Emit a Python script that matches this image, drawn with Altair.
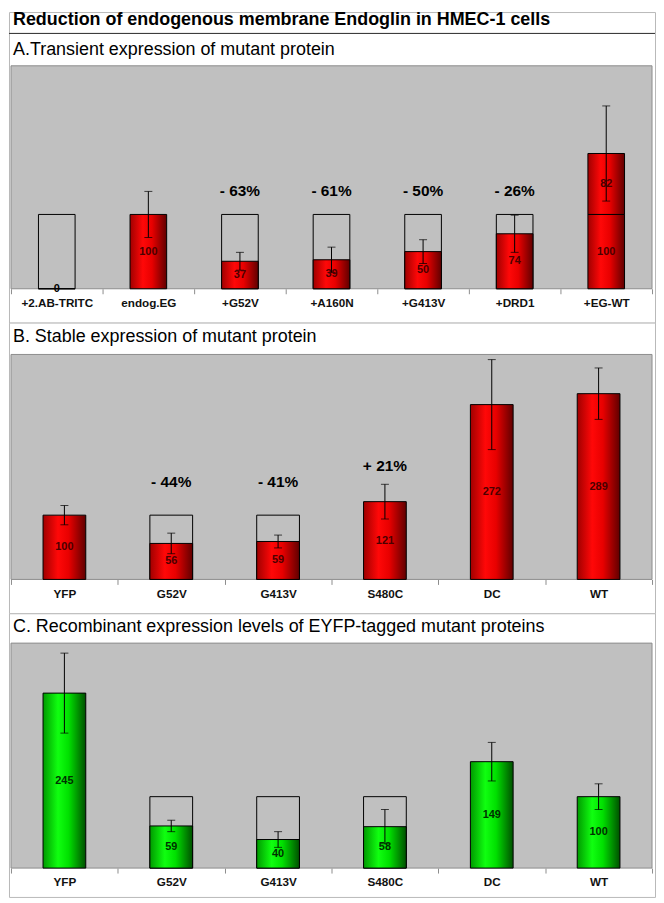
import altair as alt
import pandas as pd

FONT = "Liberation Sans"

# ---------------- data ----------------
main_title = "Reduction of endogenous membrane Endoglin in HMEC-1 cells"

title_a = "A.Transient expression of mutant protein"
cats_a = ["+2.AB-TRITC", "endog.EG", "+G52V", "+A160N", "+G413V", "+DRD1", "+EG-WT"]
base_a = [0, 100, 37, 39, 50, 74, 100]
extra_a = [0, 0, 0, 0, 0, 0, 82]
err_a = [0, 31, 12, 17, 16, 25, 64]
ref_a = [100, 0, 100, 100, 100, 100, 0]
pct_a = ["", "", "- 63%", "- 61%", "- 50%", "- 26%", ""]
pct_at_a = [0, 0, 131, 131, 131, 131, 0]

title_b = "B. Stable expression of mutant protein"
cats_b = ["YFP", "G52V", "G413V", "S480C", "DC", "WT"]
base_b = [100, 56, 59, 121, 272, 289]
extra_b = [0, 0, 0, 0, 0, 0]
err_b = [15, 16, 10, 27, 70, 40]
ref_b = [0, 100, 100, 0, 0, 0]
pct_b = ["", "- 44%", "- 41%", "+ 21%", "", ""]
pct_at_b = [0, 151, 151, 177, 0, 0]

title_c = "C. Recombinant expression levels of EYFP-tagged mutant proteins"
cats_c = ["YFP", "G52V", "G413V", "S480C", "DC", "WT"]
base_c = [245, 59, 40, 58, 149, 100]
extra_c = [0, 0, 0, 0, 0, 0]
err_c = [56, 8, 11, 24, 27, 18]
ref_c = [0, 100, 100, 100, 0, 0]
pct_c = ["", "", "", "", "", ""]
pct_at_c = [0, 0, 0, 0, 0, 0]

# ---------------- styling ----------------
W = 649
PX0, PX1 = 2, 646
TX = 4

red_grad = alt.LinearGradient(
    gradient="linear", x1=0, x2=1, y1=0, y2=0,
    stops=[alt.GradientStop(offset=0, color="#a00000"),
           alt.GradientStop(offset=0.35, color="#ff0808"),
           alt.GradientStop(offset=0.6, color="#e80000"),
           alt.GradientStop(offset=1, color="#600000")])
green_grad = alt.LinearGradient(
    gradient="linear", x1=0, x2=1, y1=0, y2=0,
    stops=[alt.GradientStop(offset=0, color="#009a00"),
           alt.GradientStop(offset=0.35, color="#10ff10"),
           alt.GradientStop(offset=0.6, color="#00e000"),
           alt.GradientStop(offset=1, color="#005000")])

one = pd.DataFrame({"k": [0]})


def panel(title, cats, base, extra, err, ref, pct, pct_at, ymax,
          H, title_y, top, bottom, grad, lab_color, top_rule=False):
    seg_rows = []
    for c, b, e in zip(cats, base, extra):
        seg_rows.append({"cat": c, "lo": 0, "hi": b, "mid": b / 2, "val": b})
        if e > 0:
            seg_rows.append({"cat": c, "lo": b, "hi": b + e, "mid": b + e / 2, "val": e})
    seg = pd.DataFrame(seg_rows)
    tot = [b + e for b, e in zip(base, extra)]
    eb = pd.DataFrame({"cat": cats, "lo": [t - r for t, r in zip(tot, err)],
                       "hi": [t + r for t, r in zip(tot, err)], "err": err})
    eb = eb[eb.err > 0]
    box = pd.DataFrame({"cat": cats, "lo": [0] * len(cats), "hi": ref})
    box = box[box.hi > 0]
    pc = pd.DataFrame({"cat": cats, "txt": pct, "y": pct_at})
    pc = pc[pc.txt != ""]

    x = alt.X("cat:N", sort=cats,
              scale=alt.Scale(domain=cats, range=[PX0, PX1], paddingInner=0, paddingOuter=0),
              axis=alt.Axis(title=None, labelAngle=0, labelFont=FONT, labelFontSize=11.75,
                            labelFontWeight="bold", labelColor="#111111",
                            tickColor="#8c8c8c", tickSize=5, tickBand="extent",
                            domain=False, grid=False, labelPadding=4,
                            offset=-(H - bottom)))
    ysc = alt.Scale(domain=[0, ymax], range=[bottom, top], nice=False, zero=True)

    def Y(f):
        return alt.Y(f, scale=ysc, axis=None)

    bg = alt.Chart(one).mark_rect(fill="#c0c0c0", stroke="#8c8c8c", strokeWidth=1).encode(
        x=alt.value(PX0), x2=alt.value(PX1), y=alt.value(top), y2=alt.value(bottom))
    ttl = alt.Chart(one).mark_text(align="left", baseline="middle", font=FONT,
                                   fontSize=18, color="black").encode(
        x=alt.value(TX), y=alt.value(title_y), text=alt.value(title))

    boxes = alt.Chart(box).mark_bar(fill="transparent", stroke="black", strokeWidth=1,
                                    width=alt.RelativeBandSize(0.4)).encode(
        x=x, y=Y("lo:Q"), y2="hi:Q")
    bars = alt.Chart(seg).mark_bar(fill=grad, stroke="black", strokeWidth=1,
                                   width=alt.RelativeBandSize(0.4)).encode(
        x=x, y=Y("lo:Q"), y2="hi:Q")
    rule = alt.Chart(eb).mark_rule(color="black", strokeWidth=1).encode(
        x=x, y=Y("lo:Q"), y2="hi:Q")
    cap_lo = alt.Chart(eb).mark_tick(color="black", thickness=1, size=8).encode(
        x=x, y=Y("lo:Q"))
    cap_hi = alt.Chart(eb).mark_tick(color="black", thickness=1, size=8).encode(
        x=x, y=Y("hi:Q"))
    labels = alt.Chart(seg).mark_text(font=FONT, fontSize=11, fontWeight="bold",
                                      baseline="middle").encode(
        x=x, y=Y("mid:Q"), text=alt.Text("val:Q"),
        color=alt.condition(alt.datum.val == 0, alt.value("black"), alt.value(lab_color)))
    layers = [bg, ttl, boxes, bars, rule, cap_lo, cap_hi, labels]
    if len(pc):
        pcts = alt.Chart(pc).mark_text(font=FONT, fontSize=15.5, fontWeight="bold",
                                       baseline="middle", color="black").encode(
            x=x, y=Y("y:Q"), text="txt:N")
        layers.append(pcts)
    if top_rule:
        layers.append(alt.Chart(one).mark_rule(color="#333333", strokeWidth=1).encode(
            x=alt.value(0), x2=alt.value(W), y=alt.value(0.5)))
    return alt.layer(*layers).properties(width=W, height=H)


header = alt.Chart(one).mark_text(align="left", baseline="middle", font=FONT,
                                  fontSize=18, fontWeight="bold", color="black").encode(
    x=alt.value(TX), y=alt.value(8), text=alt.value(main_title)
).properties(width=W, height=21)

pa = panel(title_a, cats_a, base_a, extra_a, err_a, ref_a, pct_a, pct_at_a, 300,
           291, 17, 33, 257, red_grad, "#4a0000", top_rule=True)
pb = panel(title_b, cats_b, base_b, extra_b, err_b, ref_b, pct_b, pct_at_b, 350,
           292, 14, 32, 258, red_grad, "#4a0000")
pcn = panel(title_c, cats_c, base_c, extra_c, err_c, ref_c, pct_c, pct_at_c, 315,
            285, 14, 30, 256, green_grad, "#003000")

chart = alt.vconcat(header, pa, pb, pcn, spacing=0, bounds="flush").properties(
    padding=0, background="white"
).configure_view(stroke="#b8b8b8", strokeWidth=1, fill="white")

chart.save("out.html", embed_options={"renderer": "svg", "actions": False})
